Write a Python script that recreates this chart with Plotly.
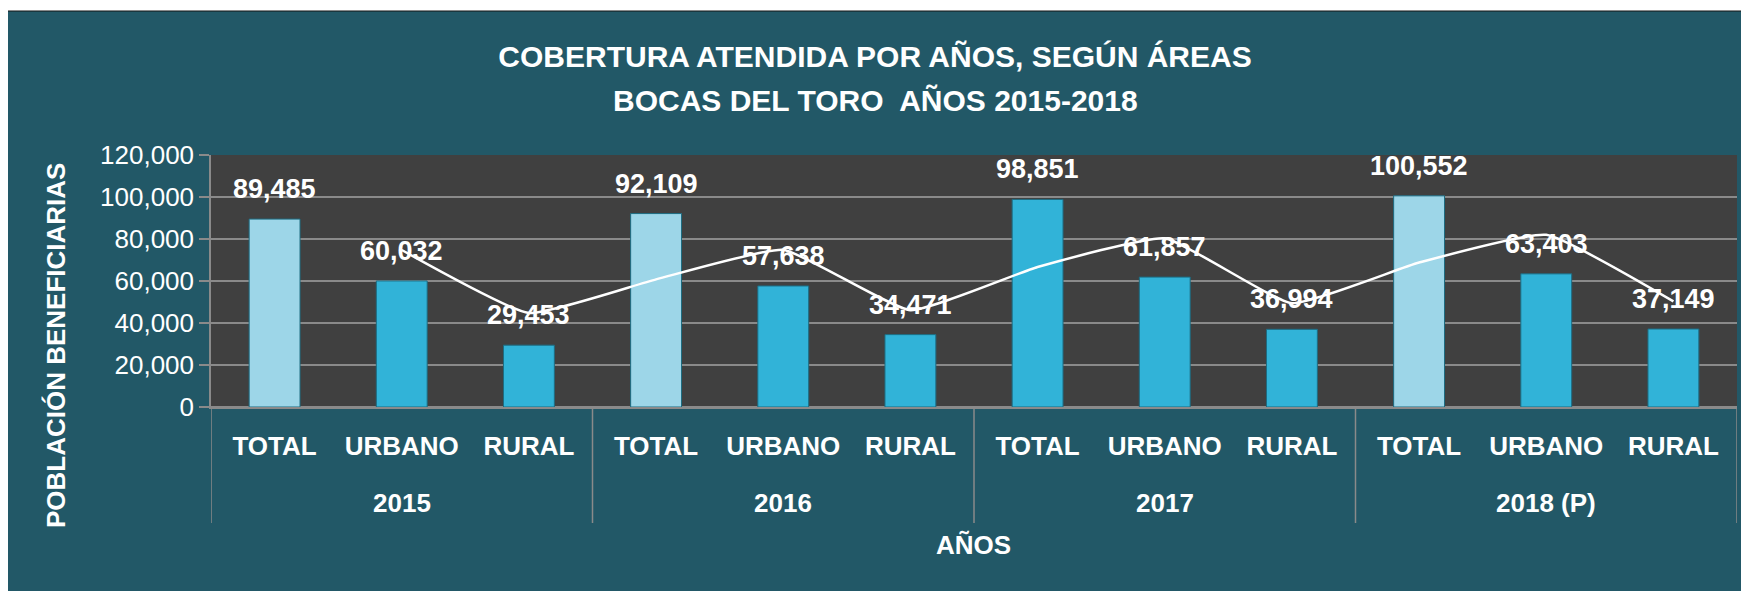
import plotly.graph_objects as go
import pandas as pd

# ---- data ----
years = ["2015", "2015", "2015", "2016", "2016", "2016",
         "2017", "2017", "2017", "2018 (P)", "2018 (P)", "2018 (P)"]
areas = ["TOTAL", "URBANO", "RURAL"] * 4
values = [89485, 60032, 29453, 92109, 57638, 34471,
          98851, 61857, 36994, 100552, 63403, 37149]
value_labels = [f"{v:,}" for v in values]
# Excel-style 2-period moving-average trendline of the bar series
trend = pd.Series(values).rolling(2).mean().tolist()

y_ticks = [0, 20000, 40000, 60000, 80000, 100000, 120000]
y_tick_text = [f"{v:,}" for v in y_ticks]

# unique category keys, displayed with the area names
keys = [f"{y} {a}" for y, a in zip(years, areas)]
year_groups = list(dict.fromkeys(years))

# ---- styles ----
LIGHT = "#9dd6e8"
CYAN = "#31b3d8"
bar_colors = [LIGHT, CYAN, CYAN, LIGHT, CYAN, CYAN, CYAN, CYAN, CYAN, LIGHT, CYAN, CYAN]
TEAL = "#225867"
PLOT_BG = "#404040"
GRID = "#8a8a8a"
FONT = "Liberation Sans, Arial, sans-serif"

# page offset (body margin) and figure size
OFF = 8
W, H = 1749 - OFF, 591 - OFF
# pixel geometry of the plot area in reference-page pixels
PL, PR, PT, PB = 211, 1737, 155, 407
PH = PB - PT
PW = PR - PL


def py(pix):
    return (PB - pix) / PH


def px(pix):
    return (pix - PL) / PW


fig = go.Figure()
fig.add_trace(go.Bar(
    x=keys, y=values,
    marker=dict(color=bar_colors, line=dict(color="#1d6c82", width=1)),
    width=0.4, showlegend=False, hoverinfo="skip",
))
fig.add_trace(go.Scatter(
    x=keys, y=trend, mode="lines",
    line=dict(color="white", width=2.5, shape="spline", smoothing=0.4),
    showlegend=False, hoverinfo="skip",
))

annotations = []
for k, v, t in zip(keys, values, value_labels):
    annotations.append(dict(
        x=k, y=v, xref="x", yref="y", text=f"<b>{t}</b>", showarrow=False,
        yshift=30, yanchor="middle", font=dict(family=FONT, size=27, color="white"),
    ))
# year group labels under the area labels
for g in year_groups:
    idx = [i for i, y in enumerate(years) if y == g]
    mid = (idx[0] + idx[-1]) / 2
    annotations.append(dict(
        x=mid, y=py(503), xref="x", yref="paper", text=f"<b>{g}</b>",
        showarrow=False, xanchor="center", yanchor="middle",
        font=dict(family=FONT, size=26, color="white"),
    ))
annotations.append(dict(
    x=px(56), y=py(346), xref="paper", yref="paper", textangle=-90,
    xanchor="center", yanchor="middle",
    text="<b>POBLACIÓN BENEFICIARIAS</b>", showarrow=False,
    font=dict(family=FONT, size=26, color="white"),
))
annotations.append(dict(
    x=px(973), y=py(545), xref="paper", yref="paper", xanchor="center", yanchor="middle",
    text="<b>AÑOS</b>", showarrow=False,
    font=dict(family=FONT, size=26, color="white"),
))
annotations.append(dict(
    x=px(875), y=py(100), xref="paper", yref="paper", xanchor="center", yanchor="middle",
    text="<b>BOCAS DEL TORO  AÑOS 2015-2018</b>", showarrow=False,
    font=dict(family=FONT, size=30, color="white"),
))

shapes = [
    dict(type="rect", xref="paper", yref="paper", x0=px(OFF) - 0.01, x1=1.02,
         y0=-0.8, y1=py(11), fillcolor=TEAL,
         line=dict(color="#151515", width=1), layer="below"),
    dict(type="rect", xref="paper", yref="paper", x0=0, x1=1, y0=0, y1=1,
         fillcolor=PLOT_BG, line=dict(width=0), layer="below"),
]
# group dividers running from the axis down through the labels
bounds = [i - 0.5 for i in range(len(years)) if i == 0 or years[i] != years[i - 1]] + [len(years) - 0.5]
for b in bounds:
    shapes.append(dict(type="line", xref="x", yref="paper", x0=b, x1=b,
                       y0=0, y1=py(523), line=dict(color=GRID, width=1.5)))

fig.update_layout(
    width=W, height=H,
    margin=dict(l=PL - OFF, r=W - (PR - OFF), t=PT - OFF, b=H - (PB - OFF)),
    paper_bgcolor="white", plot_bgcolor=PLOT_BG,
    title=dict(
        text="<b>COBERTURA ATENDIDA POR AÑOS, SEGÚN ÁREAS</b>",
        x=(875 - OFF) / W, xref="container", xanchor="center",
        y=1 - (56 - OFF) / H, yref="container", yanchor="middle",
        font=dict(family=FONT, size=30, color="white"),
    ),
    annotations=annotations,
    shapes=shapes,
    bargap=0.6,
)
fig.update_xaxes(
    type="category", tickvals=keys, ticktext=areas,
    range=[-0.5, len(keys) - 0.5],
    showline=True, linecolor=GRID, linewidth=1.5,
    ticks="", ticklabelstandoff=15,
    tickfont=dict(family=FONT, size=26, color="white", weight="bold"),
    showgrid=False,
)
fig.update_yaxes(
    range=[0, 120000], tickvals=y_ticks, ticktext=y_tick_text,
    showgrid=True, gridcolor=GRID, gridwidth=1.5,
    zeroline=True, zerolinecolor=GRID, zerolinewidth=1.5,
    showline=True, linecolor=GRID, linewidth=1.5,
    ticks="outside", ticklen=10, tickcolor=GRID, tickwidth=1.5,
    tickfont=dict(family=FONT, size=26, color="white"),
)

fig.write_html("out.html")
